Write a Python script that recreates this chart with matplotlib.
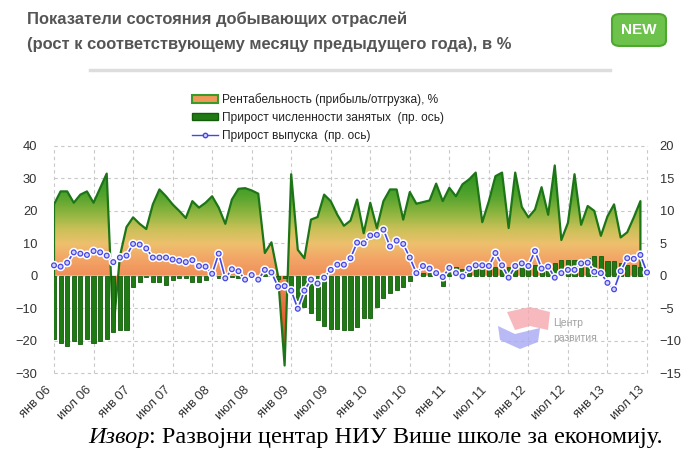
import numpy as np
import matplotlib.pyplot as plt
from matplotlib.colors import LinearSegmentedColormap
from matplotlib.patches import Rectangle, FancyBboxPatch, Polygon
from matplotlib.lines import Line2D
import matplotlib.patheffects as pe

plt.rcParams['font.family'] = ['Liberation Sans', 'DejaVu Sans']

# Рентабельность (прибыль/отгрузка), % -- left axis, Jan 2006 .. Jun 2013
rentab = [22, 26, 26, 22.5, 25, 26, 22.5, 27, 31.5, -17,
          6, 15, 18, 16, 14.4, 22, 26.6, 24.5, 22, 20,
          17.8, 23, 21, 22.5, 24.5, 21, 16, 23.5, 26.8, 27,
          26.3, 25.3, 7, 10.3, 0, -27.7, 31.3, 8, 5.4, 17.3,
          18.1, 25, 23, 18.8, 15.4, 17, 23.5, 13.1, 22.5, 14.7,
          23, 26.6, 26.6, 17.3, 25.8, 22.2, 22.7, 23.2, 28.4, 23,
          27.1, 24.5, 28.2, 29.7, 31.8, 16.5, 23, 30.7, 31.8, 14.7,
          31.8, 21.2, 18, 20.4, 27.3, 18.8, 34, 11, 16.3, 31.3,
          15.7, 21.5, 20, 12.3, 18.3, 22, 11.8, 13.4, 18, 23]

# Прирост численности занятых (right axis)
employ = [-9.8, -10.4, -10.8, -10.1, -10.5, -9.8, -10.4, -10, -9.7, -8.7,
          -8.4, -8.3, -1.8, -0.9, -0.2, -1.0, -1.0, -1.4, -0.6, -0.4,
          -0.3, -0.9, -0.9, -0.7, -0.1, -0.3, -0.2, -0.2, -0.3, -0.2,
          -0.2, -0.3, 0.2, 0.3, -0.5, -0.3, -1.7, -3.8, -4.8, -5.7,
          -6.9, -7.7, -8.2, -8.2, -8.3, -8.3, -7.9, -6.5, -6.5, -4.8,
          -3.5, -2.6, -2.2, -1.7, -0.8, 0.2, 0.4, 0.4, 0.1, -1.6,
          0.5, 1.3, 1.1, 0.9, 1.1, 1.1, 1.1, 1.3, 1.1, 1.4,
          1.6, 1.6, 1.7, 1.7, 1.7, 1.7, 1.9, 2.4, 2.5, 2.5,
          2.5, 2.8, 3.0, 3.0, 2.3, 2.2, 2.0, 1.7, 1.6, 1.4]

# Прирост выпуска (right axis), Jan 2006 .. Jul 2013
output = [1.6, 1.4, 2.0, 3.6, 3.4, 3.2, 3.8, 3.6, 3.1, 2.1,
          2.8, 3.1, 4.9, 4.8, 4.2, 2.8, 2.8, 2.8, 2.5, 2.3,
          2.1, 2.4, 1.5, 1.4, 0.3, 3.4, -0.4, 1.0, 0.7, -0.6,
          0.1, -0.6, 0.9, 0.5, -1.7, -1.6, -2.3, -5.1, -2.3, -0.6,
          -1.2, -0.3, 0.9, 1.7, 1.7, 2.7, 5.1, 5.0, 6.2, 6.3,
          7.1, 4.5, 5.4, 4.9, 2.8, 0.4, 1.5, 1.1, 0.4, -0.2,
          1.2, 0.4, -0.1, 1.1, 1.6, 1.6, 1.5, 3.5, 1.6, -0.3,
          1.5, 1.9, 1.5, 3.8, 1.1, 1.4, -0.3, 0.4, 0.9, 0.9,
          1.9, 2.0, 0.6, 0.4, -1.1, -2.1, 0.7, 2.7, 2.6, 3.2, 0.5]

tick_labels = ['янв 06', 'июл 06', 'янв 07', 'июл 07', 'янв 08', 'июл 08',
               'янв 09', 'июл 09', 'янв 10', 'июл 10', 'янв 11', 'июл 11',
               'янв 12', 'июл 12', 'янв 13', 'июл 13']

W, H = 683, 455
fig = plt.figure(figsize=(W / 100, H / 100), dpi=100)

# plot area in pixels: x 54..647, y 146..373
ax = fig.add_axes([54 / W, 1 - 373 / H, (647 - 54) / W, (373 - 146) / H])
ax2 = ax.twinx()

m_area = np.arange(len(rentab))
m_out = np.arange(len(output))

# gradient fill for the profitability area
grad_cols = [(0.0, '#d63a1c'), (0.2, '#e4582e'), (0.42, '#f08c58'),
             (0.5, '#f3a466'), (0.57, '#eec06e'), (0.64, '#c6c056'),
             (0.71, '#8ab43e'), (0.78, '#55a42e'), (0.88, '#2c9420'),
             (1.0, '#1f8a18')]
cmap = LinearSegmentedColormap.from_list('rent', grad_cols)
x0, x1 = 0, 90
grad = np.linspace(-30, 40, 300).reshape(-1, 1)
im = ax.imshow(grad, cmap=cmap, vmin=-30, vmax=40, origin='lower',
               extent=[x0, x1, -30, 40], aspect='auto', zorder=1)
poly = ax.fill_between(m_area, rentab, 0, facecolor='none', edgecolor='none')
im.set_clip_path(poly.get_paths()[0], transform=ax.transData)
ax.plot(np.r_[0, m_area, m_area[-1]], np.r_[0, rentab, 0],
        color='#1e7518', lw=1.6, zorder=3)

# bars and line on the right axis
ax2.bar(m_area, employ, width=0.62, color='#1f7a14', edgecolor='#145c0c',
        linewidth=0.6, zorder=2)
ax2.plot(m_out, output, color='#4646e6', lw=1.2, marker='o', ms=3.4,
         mfc='#d4d4ff', mec='#4646e6', mew=0.9, zorder=4, clip_on=False,
         path_effects=[pe.Stroke(linewidth=3.2, foreground='white'), pe.Normal()])

ax.set_xlim(x0, x1)
ax.set_ylim(-30, 40)
ax2.set_ylim(-15, 20)
ax.set_yticks(range(-30, 41, 10))
ax2.set_yticks(range(-15, 21, 5))
ax.set_xticks(range(0, 91, 6))
ax.set_xticklabels(tick_labels, rotation=45, ha='right', va='top',
                   fontsize=7.8, color='#333333')

for a in (ax, ax2):
    for s in a.spines.values():
        s.set_visible(False)
    a.tick_params(length=0, labelsize=9.3, labelcolor='#333333')
ax.tick_params(axis='y', pad=12)
ax.tick_params(axis='x', pad=8)
ax2.tick_params(axis='y', pad=9)
ax.set_axisbelow(True)
ax.grid(True, color='#c8c8c8', linestyle=(0, (3, 3)), linewidth=0.8)
for gl in ax.get_xgridlines() + ax.get_ygridlines():
    gl.set_clip_on(False)

# legend
handles = [Rectangle((0, 0), 1, 1, facecolor='#ef9858', edgecolor='#3a9a2a', lw=1.5),
           Rectangle((0, 0), 1, 1, facecolor='#1f7a14', edgecolor='#145c0c'),
           Line2D([], [], color='#4646e6', lw=1, marker='o', ms=3.2,
                  mfc='#d4d4ff', mec='#4646e6')]
labels = ['Рентабельность (прибыль/отгрузка), %',
          'Прирост численности занятых  (пр. ось)',
          'Прирост выпуска  (пр. ось)']
fig.legend(handles, labels, loc='upper left', bbox_to_anchor=(192 / W, 1 - 93 / H),
           frameon=False, fontsize=8.6, handlelength=2.2, handleheight=0.6,
           handletextpad=0.3, labelspacing=0.5, borderpad=0, borderaxespad=0,
           labelcolor='#222222')

# title and header decorations
fig.text(27 / W, 1 - 19 / H, 'Показатели состояния добывающих отраслей',
         fontsize=11.9, fontweight='bold', color='#555555', va='center')
fig.text(27 / W, 1 - 45 / H, '(рост к соответствующему месяцу предыдущего года), в %',
         fontsize=11.9, fontweight='bold', color='#555555', va='center')
fig.add_artist(Line2D([90 / W, 610 / W], [1 - 70 / H, 1 - 70 / H],
                      color='#dddddd', lw=2.5))
badge = FancyBboxPatch((612 / W, 1 - 46 / H), 54 / W, 32 / H,
                       boxstyle='round,pad=0,rounding_size=0.012',
                       facecolor='#6cc24a', edgecolor='#4ea82f', lw=1.5,
                       transform=fig.transFigure)
fig.add_artist(badge)
fig.text(639 / W, 1 - 30 / H, 'NEW', fontsize=11, fontweight='bold',
         color='white', ha='center', va='center')

# watermark
fig.add_artist(Polygon([[507 / W, 1 - 312 / H], [530 / W, 1 - 307 / H],
                        [550 / W, 1 - 312 / H], [548 / W, 1 - 330 / H],
                        [530 / W, 1 - 326 / H], [515 / W, 1 - 330 / H]],
                       closed=True, facecolor='#f6a8ae', edgecolor='none',
                       alpha=0.8, transform=fig.transFigure))
fig.add_artist(Polygon([[498 / W, 1 - 326 / H], [515 / W, 1 - 334 / H],
                        [540 / W, 1 - 328 / H], [538 / W, 1 - 342 / H],
                        [520 / W, 1 - 349 / H], [500 / W, 1 - 340 / H]],
                       closed=True, facecolor='#a8a8f4', edgecolor='none',
                       alpha=0.8, transform=fig.transFigure))
fig.text(553 / W, 1 - 323 / H, 'Центр', fontsize=7.5, color='#a0a0a0', va='center')
fig.text(553 / W, 1 - 338 / H, 'развития', fontsize=7.5, color='#a0a0a0', va='center')

# source caption
serif = ['Liberation Serif', 'DejaVu Serif']
t1 = fig.text(88 / W, 1 - 437 / H, 'Извор', fontsize=17.5, style='italic',
              family=serif, va='center')
plt.annotate(': Развојни центар НИУ Више школе за економију.', xy=(1, 0.5),
             xycoords=t1, va='center', ha='left', fontsize=17.5,
             family=serif, annotation_clip=False)

fig.savefig('out.png', dpi=100)
